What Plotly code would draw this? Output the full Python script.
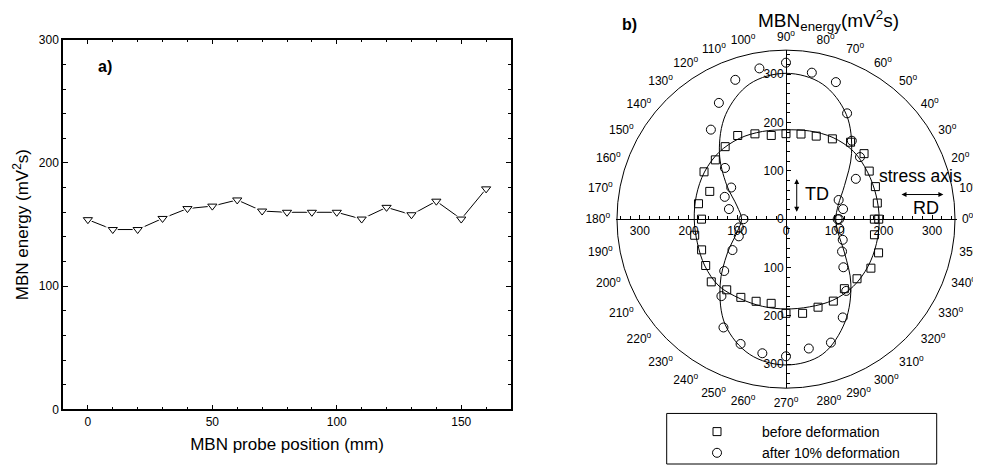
import plotly.graph_objects as go

# ---------------- data: panel a ----------------
probe_position_mm = [0, 10, 20, 30, 40, 50, 60, 70, 80, 90, 100, 110, 120, 130, 140, 150, 160]
mbn_energy_a = [154, 146, 146, 155, 163, 165, 170, 161, 160, 160, 160, 154.5, 164, 158, 169, 154.5, 179]
a_xticks = [0, 50, 100, 150]
a_yticks = [0, 100, 200, 300]

# ---------------- data: panel b ----------------
angle_deg = [0, 10, 20, 30, 40, 50, 60, 70, 80, 90, 100, 110, 120, 130, 140, 150, 160, 170, 180,
             190, 200, 210, 220, 230, 240, 250, 260, 270, 280, 290, 300, 310, 320, 330, 340, 350, 360]
before_r = [183, 192, 197, 199, 211, 208, 192, 183, 179, 177, 176, 188, 200, 196, 191, 196, 168, 184, 175,
            192, 186, 192, 202, 191, 187, 181, 177, 195, 198, 194, 196, 188, 192, 203, 204, 186, 192]
after_r = [107, 120, 116, 167, 200, 212, 253, 302, 308, 324, 317, 307, 278, 242, 165, 131, 135, 120, 88,
           99, 104, 128, 167, 208, 259, 275, 282, 284, 272, 272, 235, 194, 155, 134, 125, 112, 110]

fit_angle_deg = [0, 15, 30, 45, 60, 75, 90, 105, 120, 135, 150, 165, 180,
                 195, 210, 225, 240, 255, 270, 285, 300, 315, 330, 345, 360]
before_fit_r = [193, 193, 195, 198, 195, 189, 185, 188, 193, 196, 195, 192, 190,
                190, 194, 196, 190, 187, 186, 188, 194, 197, 196, 194, 193]
after_fit_r = [103, 112, 140, 192, 250, 290, 302, 290, 250, 195, 142, 105, 92,
               105, 140, 193, 252, 290, 302, 290, 245, 190, 140, 112, 103]

angle_tick_vals = list(range(0, 360, 10))
angle_tick_text = [f"{a}<sup>o</sup>" for a in angle_tick_vals]
radial_tick_vals = [-300, -200, -100, 0, 100, 200, 300]
radial_tick_text = ["300", "200", "100", "0", "100", "200", "300"]

# the page body has an 8px margin: lay the figure out in page pixels
OFF = 8
W, H = 981 - OFF, 469 - OFF
FONT = "Liberation Sans, Arial, sans-serif"

def px_x(p):
    return (p - OFF) / W

def px_y(p):
    return 1 - (p - OFF) / H

# polar square region (page pixels)
cx, cy, R = 786, 221, 170.5
pdx = [px_x(cx - R), px_x(cx + R)]
pdy = [px_y(cy + R), px_y(cy - R)]

fig = go.Figure()

# ---- panel a traces ----
fig.add_trace(go.Scatter(x=probe_position_mm, y=mbn_energy_a, mode="lines",
                         line=dict(color="black", width=1), showlegend=False, hoverinfo="skip"))
fig.add_trace(go.Scatter(x=probe_position_mm, y=mbn_energy_a, mode="markers",
                         marker=dict(symbol="triangle-down", size=13, color="white",
                                     line=dict(width=0)), showlegend=False, hoverinfo="skip"))
fig.add_trace(go.Scatter(x=probe_position_mm, y=mbn_energy_a, mode="markers",
                         marker=dict(symbol="triangle-down", size=8, color="white",
                                     line=dict(color="black", width=1)), showlegend=False))

# ---- panel b traces ----
fig.add_trace(go.Scatterpolar(r=before_fit_r, theta=fit_angle_deg, mode="lines",
                              line=dict(color="black", width=1, shape="spline"),
                              showlegend=False, hoverinfo="skip"))
fig.add_trace(go.Scatterpolar(r=after_fit_r, theta=fit_angle_deg, mode="lines",
                              line=dict(color="black", width=1, shape="spline"),
                              showlegend=False, hoverinfo="skip"))
fig.add_trace(go.Scatterpolar(r=before_r, theta=angle_deg, mode="markers", name="before deformation",
                              marker=dict(symbol="square-open", size=8, color="black",
                                          line=dict(width=1))))
fig.add_trace(go.Scatterpolar(r=after_r, theta=angle_deg, mode="markers", name="after 10% deformation",
                              marker=dict(symbol="circle-open", size=9, color="black",
                                          line=dict(width=1))))
# carrier for the crosshair axes
fig.add_trace(go.Scatter(x=[None], y=[None], xaxis="x2", yaxis="y2", showlegend=False, hoverinfo="skip"))

axis_common = dict(showline=True, linecolor="black", showgrid=False, zeroline=False,
                   ticks="inside", tickcolor="black", tickfont=dict(family=FONT, size=12, color="black"))

ann_common = dict(xref="paper", yref="paper", showarrow=False, xanchor="center", yanchor="middle")

fig.update_layout(
    width=W, height=H, autosize=False,
    margin=dict(l=0, r=0, t=0, b=0),
    paper_bgcolor="white", plot_bgcolor="white",
    font=dict(family=FONT, color="black"),
    xaxis=dict(domain=[px_x(63), px_x(511)], range=[-10, 170], anchor="y",
               tickmode="array", tickvals=a_xticks, ticklen=5, mirror="ticks", linewidth=1.5,
               minor=dict(tickmode="linear", tick0=0, dtick=10, ticks="inside", ticklen=3, tickcolor="black"),
               title=dict(text="MBN probe position (mm)", font=dict(size=17), standoff=10),
               automargin=False, **axis_common),
    yaxis=dict(domain=[px_y(413), px_y(40)], range=[0, 300], anchor="x",
               tickmode="array", tickvals=a_yticks, ticklen=5, mirror="ticks", linewidth=1.5,
               minor=dict(tickmode="linear", tick0=0, dtick=20, ticks="inside", ticklen=3, tickcolor="black"),
               title=dict(text="MBN energy (mV<sup>2</sup>s)", font=dict(size=17), standoff=6),
               automargin=False, **axis_common),
    xaxis2=dict(domain=pdx, range=[-350, 350], anchor="free", position=(pdy[0] + pdy[1]) / 2,
                tickmode="array", tickvals=radial_tick_vals, ticktext=radial_tick_text, ticklen=4,
                minor=dict(tickmode="linear", tick0=0, dtick=20, ticks="inside", ticklen=3, tickcolor="black"),
                linewidth=1, automargin=False, fixedrange=True, **axis_common),
    yaxis2=dict(domain=pdy, range=[-350, 350], anchor="free", position=(pdx[0] + pdx[1]) / 2,
                tickmode="array", tickvals=radial_tick_vals, ticktext=radial_tick_text, ticklen=4,
                minor=dict(tickmode="linear", tick0=0, dtick=20, ticks="inside", ticklen=3, tickcolor="black"),
                linewidth=1, automargin=False, fixedrange=True, **axis_common),
    polar=dict(
        domain=dict(x=pdx, y=pdy),
        bgcolor="rgba(0,0,0,0)",
        radialaxis=dict(range=[0, 350], visible=False),
        angularaxis=dict(rotation=0, direction="counterclockwise", tickmode="array",
                         tickvals=angle_tick_vals, ticktext=angle_tick_text,
                         showgrid=False, ticks="outside", ticklen=4, tickcolor="rgba(0,0,0,0)",
                         showline=True, linecolor="black", linewidth=1,
                         tickfont=dict(family=FONT, size=12, color="black")),
    ),
    legend=dict(x=px_x(672), y=px_y(420), xanchor="left", yanchor="top",
                bgcolor="rgba(0,0,0,0)", borderwidth=0, itemwidth=80,
                font=dict(family=FONT, size=14, color="black"), tracegroupgap=0),
    shapes=[dict(type="rect", xref="paper", yref="paper",
                 x0=px_x(666.7), x1=px_x(936.7), y0=px_y(468), y1=px_y(417),
                 line=dict(color="black", width=1), fillcolor="rgba(0,0,0,0)")],
    annotations=[
        dict(text="<b>a)</b>", x=px_x(105), y=px_y(67), font=dict(size=16), **ann_common),
        dict(text="<b>b)</b>", x=px_x(629), y=px_y(25), font=dict(size=16), **ann_common),
        dict(text="MBN<sub>energy</sub>(mV<sup>2</sup>s)", x=px_x(828), y=px_y(21),
             font=dict(size=19), **ann_common),
        dict(text="TD", x=63, y=53, xref="x2", yref="y2", showarrow=False, font=dict(size=18)),
        dict(text="", x=22, y=83, ax=22, ay=12, xref="x2", yref="y2", axref="x2", ayref="y2",
             showarrow=True, arrowside="end+start", arrowhead=2, arrowsize=1, arrowwidth=1, arrowcolor="black"),
        dict(text="stress axis", x=277, y=90, xref="x2", yref="y2", showarrow=False, font=dict(size=17.5)),
        dict(text="", x=323, y=51, ax=234, ay=51, xref="x2", yref="y2", axref="x2", ayref="y2",
             showarrow=True, arrowside="end+start", arrowhead=2, arrowsize=1, arrowwidth=1, arrowcolor="black"),
        dict(text="RD", x=287.5, y=22.6, xref="x2", yref="y2", showarrow=False, font=dict(size=18)),
    ],
)

fig.write_html("out.html")
